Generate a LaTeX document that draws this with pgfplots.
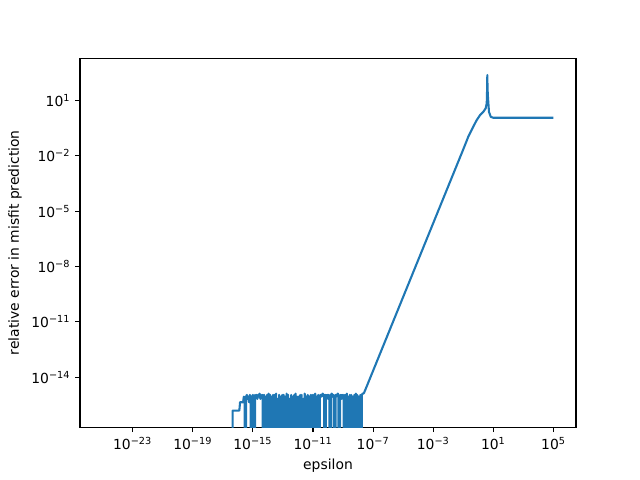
\documentclass[border=0pt]{standalone}
\usepackage{fontspec}
\setmainfont{DejaVu Sans}
\usepackage{pgfplots}
\pgfplotsset{compat=1.18}
\definecolor{mplblue}{HTML}{1F77B4}
\begin{document}
\begin{tikzpicture}
\useasboundingbox (0,0) rectangle (460.8pt,345.6pt);
\begin{axis}[
  at={(57.6pt,38.016pt)}, anchor=south west,
  scale only axis, width=357.12pt, height=265.68pt,
  xmode=log, ymode=log,
  xmin=3.16e-27, xmax=3.16e6,
  ymin=1.95e-17, ymax=1950,
  xtick={1e-23,1e-19,1e-15,1e-11,1e-7,1e-3,1e1,1e5},
  xticklabels={10\textsuperscript{−23},10\textsuperscript{−19},10\textsuperscript{−15},10\textsuperscript{−11},10\textsuperscript{−7},10\textsuperscript{−3},10\textsuperscript{1},10\textsuperscript{5}},
  ytick={1e-14,1e-11,1e-8,1e-5,1e-2,1e1},
  yticklabels={10\textsuperscript{−14},10\textsuperscript{−11},10\textsuperscript{−8},10\textsuperscript{−5},10\textsuperscript{−2},10\textsuperscript{1}},
  xminorticks=false, yminorticks=false,
  tick align=outside, tick pos=left,
  major tick length=3.5pt,
  every tick/.style={black, line width=0.8pt},
  axis line style={line width=0.8pt},
  tick label style={font=\fontsize{10}{12}\selectfont},
  label style={font=\fontsize{10}{12}\selectfont},
  xlabel={epsilon},
  ylabel={relative error in misfit prediction},
]
\addplot[mplblue, line width=1.5pt, line join=round] table {
x y
1e-25 1e-100
3.98e-17 1e-100
4.47e-17 1.55e-16
5.01e-17 1.55e-16
5.62e-17 1.55e-16
6.31e-17 1.55e-16
7.08e-17 1.55e-16
7.94e-17 1.55e-16
8.91e-17 1.55e-16
1.00e-16 1.55e-16
1.12e-16 1.55e-16
1.26e-16 1.55e-16
1.41e-16 4.4e-16
1.58e-16 4.4e-16
1.78e-16 4.4e-16
2.00e-16 4.4e-16
2.24e-16 4.4e-16
2.51e-16 8.9e-16
2.82e-16 6.7e-16
3.16e-16 1e-100
3.55e-16 8.9e-16
3.98e-16 1.1e-15
4.47e-16 6.7e-16
5.01e-16 8.9e-16
5.62e-16 4.4e-16
6.31e-16 1.1e-15
7.08e-16 6.7e-16
7.94e-16 1e-100
8.91e-16 8.9e-16
1.00e-15 1.1e-15
1.12e-15 6.7e-16
1.26e-15 1e-100
1.41e-15 1.1e-15
1.58e-15 8.9e-16
1.78e-15 1.1e-15
2.00e-15 6.7e-16
2.24e-15 1.1e-15
2.51e-15 8.9e-16
2.82e-15 1.3e-15
3.16e-15 6.7e-16
3.55e-15 1.1e-15
3.98e-15 8.9e-16
4.47e-15 1.1e-15
5.01e-15 1e-100
5.62e-15 1.1e-15
6.31e-15 1e-100
7.08e-15 8.9e-16
7.94e-15 1e-100
8.91e-15 1.1e-15
1.00e-14 1e-100
1.12e-14 1.3e-15
1.26e-14 1e-100
1.41e-14 1.1e-15
1.58e-14 1e-100
1.78e-14 8.9e-16
2.00e-14 1e-100
2.24e-14 1.1e-15
2.51e-14 1e-100
2.82e-14 1.1e-15
3.16e-14 1e-100
3.55e-14 1.3e-15
3.98e-14 1e-100
4.47e-14 6.7e-16
5.01e-14 1e-100
5.62e-14 1.1e-15
6.31e-14 1e-100
7.08e-14 8.9e-16
7.94e-14 1e-100
8.91e-14 1.1e-15
1.00e-13 1e-100
1.12e-13 1.1e-15
1.26e-13 1e-100
1.41e-13 8.9e-16
1.58e-13 1e-100
1.78e-13 1.3e-15
2.00e-13 1e-100
2.24e-13 1.1e-15
2.51e-13 1e-100
2.82e-13 6.7e-16
3.16e-13 1e-100
3.55e-13 1.1e-15
3.98e-13 1e-100
4.47e-13 8.9e-16
5.01e-13 1e-100
5.62e-13 1.1e-15
6.31e-13 1e-100
7.08e-13 1.3e-15
7.94e-13 1e-100
8.91e-13 8.9e-16
1.00e-12 1e-100
1.12e-12 8.9e-16
1.26e-12 1e-100
1.41e-12 1.1e-15
1.58e-12 1e-100
1.78e-12 1.1e-15
2.00e-12 1e-100
2.24e-12 6.7e-16
2.51e-12 1e-100
2.82e-12 1.3e-15
3.16e-12 1e-100
3.55e-12 8.9e-16
3.98e-12 1e-100
4.47e-12 1.1e-15
5.01e-12 1e-100
5.62e-12 8.9e-16
6.31e-12 1e-100
7.08e-12 1.1e-15
7.94e-12 1e-100
8.91e-12 1.1e-15
1.00e-11 1e-100
1.12e-11 1.1e-15
1.26e-11 1e-100
1.41e-11 1.3e-15
1.58e-11 1e-100
1.78e-11 8.9e-16
2.00e-11 1e-100
2.24e-11 1.1e-15
2.51e-11 1e-100
2.82e-11 6.7e-16
3.16e-11 1.1e-15
3.55e-11 8.9e-16
3.98e-11 1.1e-15
4.47e-11 1.3e-15
5.01e-11 8.9e-16
5.62e-11 1.1e-15
6.31e-11 1e-100
7.08e-11 1.1e-15
7.94e-11 8.9e-16
8.91e-11 1.1e-15
1.00e-10 6.7e-16
1.12e-10 1.1e-15
1.26e-10 8.9e-16
1.41e-10 1e-100
1.58e-10 1.1e-15
1.78e-10 1.3e-15
2.00e-10 8.9e-16
2.24e-10 1.1e-15
2.51e-10 6.7e-16
2.82e-10 1e-100
3.16e-10 1.1e-15
3.55e-10 8.9e-16
3.98e-10 1.1e-15
4.47e-10 1.3e-15
5.01e-10 1.1e-15
5.62e-10 1e-100
6.31e-10 8.9e-16
7.08e-10 1.1e-15
7.94e-10 6.7e-16
8.91e-10 1.1e-15
1.00e-9 8.9e-16
1.12e-9 1.1e-15
1.26e-9 1e-100
1.41e-9 1.1e-15
1.58e-9 1e-100
1.78e-9 1.3e-15
2.00e-9 1e-100
2.24e-9 8.9e-16
2.51e-9 1e-100
2.82e-9 1.1e-15
3.16e-9 1e-100
3.55e-9 1.1e-15
3.98e-9 1e-100
4.47e-9 8.9e-16
5.01e-9 1e-100
5.62e-9 1.1e-15
6.31e-9 1e-100
7.08e-9 1.3e-15
7.94e-9 1e-100
8.91e-9 1.1e-15
1.00e-8 1e-100
1.12e-8 8.9e-16
1.26e-8 1e-100
1.41e-8 1.1e-15
1.58e-8 1e-100
1.78e-8 1.1e-15
2.00e-8 1.3e-15
2.24e-8 1.3e-15
2.51e-8 1.41e-15
2.82e-8 1.8e-15
3.16e-8 2.24e-15
1e-7 2.24e-14
1e-6 2.24e-12
1e-5 2.24e-10
1e-4 2.24e-8
1e-3 2.24e-6
1e-2 2.24e-4
0.1 0.0224
0.214 0.107
0.457 0.372
0.776 0.851
1.29 1.58
2.14 2.40
3.09 3.72
3.63 6.9
3.80 25
3.89 79
3.98 240
4.07 79
4.17 40
4.27 22
4.47 12
5.13 2.4
6.76 1.29
10 1.15
1e5 1.15
};
\end{axis}
\end{tikzpicture}
\end{document}
